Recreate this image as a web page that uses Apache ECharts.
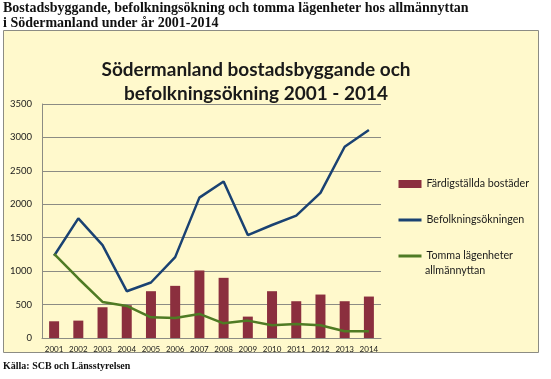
<!DOCTYPE html>
<html><head><meta charset="utf-8">
<script src="https://cdn.jsdelivr.net/npm/echarts@6/dist/echarts.min.js"></script>
<style>html,body{margin:0;padding:0;background:#fff}#c{width:551px;height:379px}</style>
</head><body><div id="c"></div>
<script>
var years = ['2001','2002','2003','2004','2005','2006','2007','2008','2009','2010','2011','2012','2013','2014'];
var fardigstallda = [250, 260, 460, 490, 700, 780, 1010, 900, 320, 700, 550, 650, 550, 620];
var befolkning = [1230, 1790, 1390, 700, 830, 1210, 2100, 2340, 1540, 1690, 1830, 2170, 2860, 3110];
var tomma = [1260, 890, 540, 480, 310, 300, 360, 220, 260, 190, 210, 190, 100, 100];
var yTicks = [0, 500, 1000, 1500, 2000, 2500, 3000, 3500];

var chart = echarts.init(document.getElementById('c'));
var font = 'Lato';
chart.setOption({
  backgroundColor: '#ffffff',
  animation: false,
  graphic: [
    {type:'rect', z:-10, shape:{x:3.5,y:30.5,width:535,height:322}, style:{fill:'#FFF9CC', stroke:'#8c8c84', lineWidth:1}},
    {type:'text', left:3, top:1, style:{text:'Bostadsbyggande, befolkningsökning och tomma lägenheter hos allmännyttan\ni Södermanland under år 2001-2014', font:'bold 14px "Liberation Serif"', fill:'#111', lineHeight:15}},
    {type:'text', left:3, top:361, style:{text:'Källa: SCB och Länsstyrelsen', font:'bold 10px "Liberation Serif"', fill:'#111'}},
    {type:'text', x:425, y:271, style:{text:'allmännyttan', font:'10.7px Lato', fill:'#1a1a1a', verticalAlign:'middle'}}
  ],
  title: {
    text: 'Södermanland bostadsbyggande och\nbefolkningsökning 2001 - 2014',
    left: 251, top: 53, textAlign: 'center',
    textStyle: {fontFamily: font, fontWeight: 'bold', fontSize: 19, color: '#1a1a1a', lineHeight: 24}
  },
  legend: {
    orient: 'vertical', left: 397, top: 176.5, itemGap: 21, padding: 0,
    itemWidth: 23, itemHeight: 8,
    textStyle: {fontFamily: font, fontSize: 10.7, color: '#1a1a1a', lineHeight: 15},
    formatter: function(n){ return n === 'Tomma lägenheter allmännyttan' ? 'Tomma lägenheter' : n; },
    data: [
      {name:'Färdigställda bostäder', icon:'rect'},
      {name:'Befolkningsökningen', itemStyle:{opacity:0}, lineStyle:{width:3}},
      {name:'Tomma lägenheter allmännyttan', itemStyle:{opacity:0}, lineStyle:{width:3}}
    ]
  },
  grid: {left: 42, right: 170, top: 104, bottom: 41, containLabel: false},
  xAxis: {
    type: 'category', data: years,
    axisLine: {lineStyle: {color: '#8c8c84'}},
    axisTick: {show: false},
    axisLabel: {fontFamily: font, fontSize: 8, color: '#1a1a1a', margin: 7, interval: 0}
  },
  yAxis: {
    type: 'value', min: 0, max: 3500, interval: 500,
    axisLine: {show: true, lineStyle: {color: '#8c8c84'}},
    axisTick: {show: false},
    splitLine: {lineStyle: {color: '#8c8c84'}},
    axisLabel: {fontFamily: font, fontSize: 9.5, color: '#1a1a1a', margin: 10,
      formatter: function(v){ return yTicks.indexOf(v) >= 0 ? String(v) : ''; }}
  },
  series: [
    {name:'Färdigställda bostäder', type:'bar', data: fardigstallda, barWidth: 10, itemStyle:{color:'#8B2F3E'}},
    {name:'Befolkningsökningen', type:'line', data: befolkning, symbol:'none', lineStyle:{color:'#1A4272', width:2.5}, itemStyle:{color:'#1A4272'}},
    {name:'Tomma lägenheter allmännyttan', type:'line', data: tomma, symbol:'none', lineStyle:{color:'#4F7B24', width:2.5}, itemStyle:{color:'#4F7B24'}}
  ]
});
</script></body></html>
